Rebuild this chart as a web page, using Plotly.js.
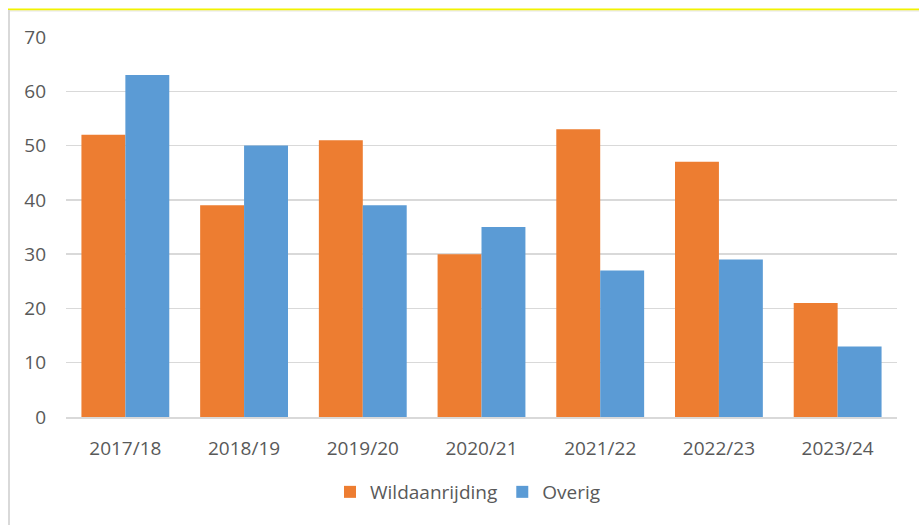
<!DOCTYPE html>
<html>
<head>
<meta charset="utf-8">
<script src="https://cdn.plot.ly/plotly-3.0.1.min.js"></script>
<style>
html,body{margin:0;padding:0;background:#fff;}
#chart{width:919px;height:525px;}
</style>
</head>
<body>
<div id="chart"></div>
<script>
const categories = ["2017/18","2018/19","2019/20","2020/21","2021/22","2022/23","2023/24"];
const wildaanrijding = [52,39,51,30,53,47,21];
const overig = [63,50,39,35,27,29,13];
const seriesNames = ["Wildaanrijding","Overig"];
const colors = ["#ED7D31","#5B9BD5"];
const yTicks = [0,10,20,30,40,50,60,70];

const W = 919, H = 525;
const m = {l:66, r:22, t:37, b:108};
const pw = W - m.l - m.r, ph = H - m.t - m.b;
const px = x => (x - m.l) / pw;
const py = y => (H - m.b - y) / ph;

const font = {family: "Open Sans, sans-serif", size: 19, color: "#595959"};

const traces = [
  {type:"bar", name:seriesNames[0], x:categories, y:wildaanrijding, marker:{color:colors[0]}},
  {type:"bar", name:seriesNames[1], x:categories, y:overig, marker:{color:colors[1]}}
];

const layout = {
  width: W, height: H,
  margin: m,
  paper_bgcolor: "#fff", plot_bgcolor: "#fff",
  barmode: "group", bargap: 0.26, bargroupgap: 0,
  font: font,
  showlegend: true,
  legend: {orientation:"h", x:px(468), xanchor:"center", y:py(492), yanchor:"middle", font:font, itemwidth:30},
  xaxis: {type:"category", showgrid:false, showline:true, linecolor:"#d9d9d9", linewidth:2, ticks:"", tickfont:font, ticklabelstandoff:13, fixedrange:true},
  yaxis: {range:[0,70], tickvals:yTicks, showgrid:true, gridcolor:"#d9d9d9", gridwidth:1.5, zeroline:false, showline:false, ticks:"", tickfont:font, ticklabelstandoff:19, fixedrange:true},
  shapes: [
    {type:"line", xref:"paper", yref:"paper", x0:px(8), x1:px(919), y0:py(9.5), y1:py(9.5), line:{color:"#f2f200", width:2}},
    {type:"line", xref:"paper", yref:"paper", x0:px(8), x1:px(919), y0:py(11), y1:py(11), line:{color:"#e6e6e6", width:1}},
    {type:"line", xref:"paper", yref:"paper", x0:px(9), x1:px(9), y0:py(10), y1:py(525), line:{color:"#d9d9d9", width:2}}
  ]
};

Plotly.newPlot("chart", traces, layout, {displayModeBar:false, staticPlot:true});
</script>
</body>
</html>
